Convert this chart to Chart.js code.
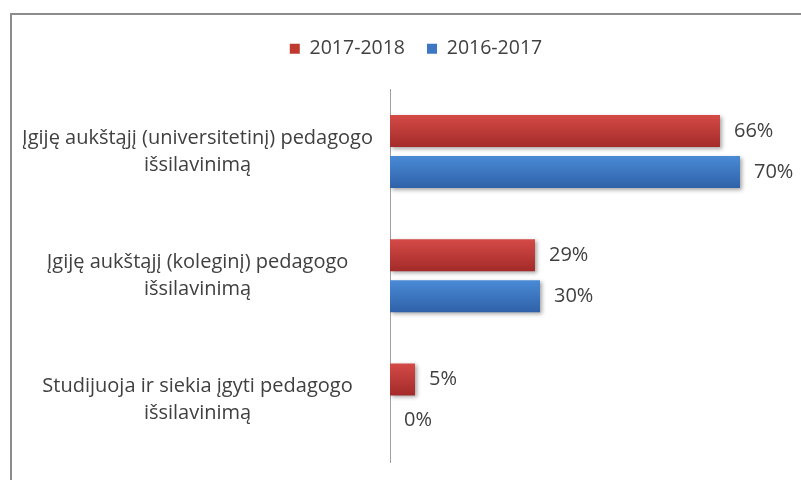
<!DOCTYPE html>
<html>
<head>
<meta charset="utf-8">
<script src="https://cdn.jsdelivr.net/npm/chart.js@4/dist/chart.umd.min.js"></script>
<style>
  html, body { margin: 0; padding: 0; background: #fff; overflow: hidden; }
  #frame {
    position: absolute; left: 10px; top: 13px;
    width: 812px; height: 480px;
    border: 2px solid #8c8c8c;
  }
</style>
</head>
<body>
<div id="frame"><canvas id="barChart"></canvas></div>
<script>
const categories = [
  ['Įgiję aukštąjį (universitetinį) pedagogo', 'išsilavinimą'],
  ['Įgiję aukštąjį (koleginį) pedagogo', 'išsilavinimą'],
  ['Studijuoja ir siekia įgyti pedagogo', 'išsilavinimą'],
];
const seriesNames = ['2017-2018', '2016-2017'];
const values2017_2018 = [66, 29, 5];
const values2016_2017 = [70, 30, 0];

const legendColors = ['#c0392f', '#3d76c2'];
const gradientStops = [
  ['#d44a46', '#a32b2a'],
  ['#4a8ad6', '#2f62a8'],
];

const FONT = '"Open Sans", sans-serif';
const TEXT = '#404040';
const CAT_PCT = 0.66;
const BAR_PCT = 0.78;

// vertical gradient per bar, placed from the category scale
function barFill(ctx) {
  const chart = ctx.chart;
  const stops = gradientStops[ctx.datasetIndex];
  const area = chart.chartArea;
  const y = chart.scales.y;
  if (!area || !y) return stops[1];
  const cat = (area.bottom - area.top) / chart.data.labels.length;
  const slot = cat * CAT_PCT / 2;
  const center = y.getPixelForValue(ctx.dataIndex) + (ctx.datasetIndex - 0.5) * slot;
  const half = slot * BAR_PCT / 2;
  const g = chart.ctx.createLinearGradient(0, center - half, 0, center + half);
  g.addColorStop(0, stops[0]);
  g.addColorStop(1, stops[1]);
  return g;
}

// extra room under the legend, shadow under bars, value labels
const barExtras = {
  id: 'barExtras',
  beforeInit(chart) {
    const fit = chart.legend.fit;
    chart.legend.fit = function () {
      fit.call(this);
      this.height += 21;
    };
  },
  beforeDatasetsDraw(chart) {
    const c = chart.ctx;
    c.save();
    c.shadowColor = 'rgba(0,0,0,0.35)';
    c.shadowBlur = 4;
    c.shadowOffsetX = 2;
    c.shadowOffsetY = 2;
  },
  afterDatasetsDraw(chart) {
    const c = chart.ctx;
    c.restore();
    c.save();
    c.font = '20px ' + FONT;
    c.fillStyle = TEXT;
    c.textAlign = 'left';
    c.textBaseline = 'middle';
    chart.data.datasets.forEach((ds, i) => {
      chart.getDatasetMeta(i).data.forEach((bar, j) => {
        c.fillText(ds.data[j] + '%', bar.x + 14, bar.y);
      });
    });
    c.restore();
  }
};

const barChartConfig = {
  type: 'bar',
  data: {
    labels: categories,
    datasets: [
      { label: seriesNames[0], data: values2017_2018, backgroundColor: barFill },
      { label: seriesNames[1], data: values2016_2017, backgroundColor: barFill },
    ]
  },
  options: {
    indexAxis: 'y',
    responsive: true,
    maintainAspectRatio: false,
    animation: false,
    categoryPercentage: CAT_PCT,
    barPercentage: BAR_PCT,
    layout: { padding: { left: 0, right: 4, top: 2, bottom: 33 } },
    scales: {
      x: { display: false, min: 0, max: 86 },
      y: {
        grid: { display: false },
        border: { display: true, color: '#a0a0a0', width: 1 },
        ticks: {
          crossAlign: 'center',
          padding: 9,
          color: TEXT,
          font: { family: FONT, size: 20, lineHeight: 1.35 }
        },
        afterFit(scale) {
          scale.width = 378;
          scale.paddingTop = 0;
          scale.paddingBottom = 0;
        }
      }
    },
    plugins: {
      tooltip: { enabled: false },
      legend: {
        position: 'top',
        labels: {
          boxWidth: 10,
          boxHeight: 10,
          padding: 22,
          color: TEXT,
          font: { family: FONT, size: 19.5 },
          generateLabels(chart) {
            const items = Chart.defaults.plugins.legend.labels.generateLabels(chart);
            items.forEach((it, i) => {
              it.fillStyle = legendColors[i];
              it.strokeStyle = legendColors[i];
              it.lineWidth = 0;
            });
            return items;
          }
        }
      }
    }
  },
  plugins: [barExtras]
};

const barChart = new Chart(document.getElementById('barChart'), barChartConfig);
</script>
</body>
</html>
